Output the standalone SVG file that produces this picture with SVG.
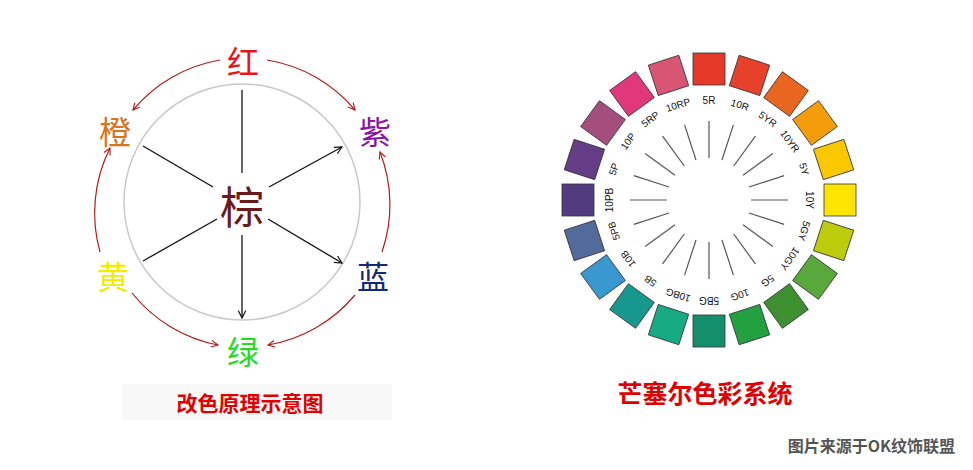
<svg xmlns="http://www.w3.org/2000/svg" width="973" height="470" viewBox="0 0 973 470">
<style>
.cj{font-family:"Noto Sans CJK SC","Liberation Sans",sans-serif;text-anchor:middle;dominant-baseline:central}
.sq{stroke:#333;stroke-width:0.8}
.tk{stroke:#555;stroke-width:1.2}
.lb{font-family:"Liberation Sans",sans-serif;font-size:10px;fill:#111;text-anchor:middle;dominant-baseline:central}
.bk{stroke:#111;stroke-width:1.3;fill:none}
.rd{stroke:#b31b1b;stroke-width:1.2;fill:none}
</style>
<defs>
<marker id="ab" viewBox="0 0 10 10" refX="9" refY="5" markerWidth="7" markerHeight="7" orient="auto"><path d="M1,1 L9,5 L1,9" fill="none" stroke="#111" stroke-width="1.3"/></marker>
<marker id="ar" viewBox="0 0 10 10" refX="9" refY="5" markerWidth="7" markerHeight="7" orient="auto"><path d="M1,1 L9,5 L1,9" fill="none" stroke="#b31b1b" stroke-width="1.3"/></marker>
</defs>
<rect width="973" height="470" fill="#fff"/>
<circle cx="242" cy="202" r="118" fill="none" stroke="#c8c8c8" stroke-width="1.5"/>
<g id="connectors">
<line class="bk" x1="242" y1="90" x2="242" y2="173"/>
<line class="bk" x1="242" y1="235" x2="242" y2="318" marker-end="url(#ab)"/>
<line class="bk" x1="143" y1="146" x2="213" y2="187"/>
<line class="bk" x1="269" y1="187" x2="342" y2="147" marker-end="url(#ab)"/>
<line class="bk" x1="143" y1="261" x2="217" y2="219"/>
<line class="bk" x1="268" y1="219" x2="342" y2="263" marker-end="url(#ab)"/>
<path class="rd" d="M267,60 A145,145 0 0 1 355,110" marker-end="url(#ar)"/>
<path class="rd" d="M220,60 A145,145 0 0 0 133,110" marker-end="url(#ar)"/>
<path class="rd" d="M100,252 A145,145 0 0 1 110,148" marker-end="url(#ar)"/>
<path class="rd" d="M382,252 A145,145 0 0 0 380,152" marker-end="url(#ar)"/>
<path class="rd" d="M132,293 A145,145 0 0 0 218,345" marker-end="url(#ar)"/>
<path class="rd" d="M355,295 A145,145 0 0 1 268,345" marker-end="url(#ar)"/>
</g>
<g id="n-hong"><text class="cj" x="243" y="60" font-size="32" fill="#e8141c">红</text></g>
<g id="n-cheng"><text class="cj" x="115" y="130" font-size="32" fill="#d9731c">橙</text></g>
<g id="n-zi"><text class="cj" x="375" y="130" font-size="32" fill="#8a14a8">紫</text></g>
<g id="n-huang"><text class="cj" x="113" y="275" font-size="32" fill="#f2ec00">黄</text></g>
<g id="n-lan"><text class="cj" x="373" y="275" font-size="32" fill="#142a78">蓝</text></g>
<g id="n-lv"><text class="cj" x="243" y="350" font-size="32" fill="#22dd22">绿</text></g>
<g id="n-zong"><text class="cj" x="242" y="205" font-size="44" fill="#6b1a1a">棕</text></g>
<rect x="122" y="384" width="270" height="36" fill="#f8f8f8"/>
<text class="cj" x="250" y="402" font-size="21" font-weight="bold" fill="#e00000">改色原理示意图</text>
<g id="wheel" transform="translate(709,200)">
<g transform="rotate(0)"><rect class="sq" x="-16" y="-147" width="32" height="32" fill="#e53a2a"/><line class="tk" x1="0" y1="-42" x2="0" y2="-79"/><text class="lb" x="0" y="-100">5R</text></g>
<g transform="rotate(18)"><rect class="sq" x="-16" y="-147" width="32" height="32" fill="#e8412b"/><line class="tk" x1="0" y1="-42" x2="0" y2="-79"/><text class="lb" x="0" y="-100">10R</text></g>
<g transform="rotate(36)"><rect class="sq" x="-16" y="-147" width="32" height="32" fill="#e8661f"/><line class="tk" x1="0" y1="-42" x2="0" y2="-79"/><text class="lb" x="0" y="-100">5YR</text></g>
<g transform="rotate(54)"><rect class="sq" x="-16" y="-147" width="32" height="32" fill="#f59c0a"/><line class="tk" x1="0" y1="-42" x2="0" y2="-79"/><text class="lb" x="0" y="-100">10YR</text></g>
<g transform="rotate(72)"><rect class="sq" x="-16" y="-147" width="32" height="32" fill="#fbc800"/><line class="tk" x1="0" y1="-42" x2="0" y2="-79"/><text class="lb" x="0" y="-100">5Y</text></g>
<g transform="rotate(90)"><rect class="sq" x="-16" y="-147" width="32" height="32" fill="#fde500"/><line class="tk" x1="0" y1="-42" x2="0" y2="-79"/><text class="lb" x="0" y="-100">10Y</text></g>
<g transform="rotate(108)"><rect class="sq" x="-16" y="-147" width="32" height="32" fill="#bccb0c"/><line class="tk" x1="0" y1="-42" x2="0" y2="-79"/><text class="lb" x="0" y="-100">5GY</text></g>
<g transform="rotate(126)"><rect class="sq" x="-16" y="-147" width="32" height="32" fill="#58a83c"/><line class="tk" x1="0" y1="-42" x2="0" y2="-79"/><text class="lb" x="0" y="-100">10GY</text></g>
<g transform="rotate(144)"><rect class="sq" x="-16" y="-147" width="32" height="32" fill="#3d8f30"/><line class="tk" x1="0" y1="-42" x2="0" y2="-79"/><text class="lb" x="0" y="-100">5G</text></g>
<g transform="rotate(162)"><rect class="sq" x="-16" y="-147" width="32" height="32" fill="#23a140"/><line class="tk" x1="0" y1="-42" x2="0" y2="-79"/><text class="lb" x="0" y="-100">10G</text></g>
<g transform="rotate(180)"><rect class="sq" x="-16" y="-147" width="32" height="32" fill="#138f6c"/><line class="tk" x1="0" y1="-42" x2="0" y2="-79"/><text class="lb" x="0" y="-100">5BG</text></g>
<g transform="rotate(198)"><rect class="sq" x="-16" y="-147" width="32" height="32" fill="#17ab83"/><line class="tk" x1="0" y1="-42" x2="0" y2="-79"/><text class="lb" x="0" y="-100">10BG</text></g>
<g transform="rotate(216)"><rect class="sq" x="-16" y="-147" width="32" height="32" fill="#17988f"/><line class="tk" x1="0" y1="-42" x2="0" y2="-79"/><text class="lb" x="0" y="-100">5B</text></g>
<g transform="rotate(234)"><rect class="sq" x="-16" y="-147" width="32" height="32" fill="#3a98d0"/><line class="tk" x1="0" y1="-42" x2="0" y2="-79"/><text class="lb" x="0" y="-100">10B</text></g>
<g transform="rotate(252)"><rect class="sq" x="-16" y="-147" width="32" height="32" fill="#536b9b"/><line class="tk" x1="0" y1="-42" x2="0" y2="-79"/><text class="lb" x="0" y="-100">5PB</text></g>
<g transform="rotate(270)"><rect class="sq" x="-16" y="-147" width="32" height="32" fill="#533b80"/><line class="tk" x1="0" y1="-42" x2="0" y2="-79"/><text class="lb" x="0" y="-100">10PB</text></g>
<g transform="rotate(288)"><rect class="sq" x="-16" y="-147" width="32" height="32" fill="#653c86"/><line class="tk" x1="0" y1="-42" x2="0" y2="-79"/><text class="lb" x="0" y="-100">5P</text></g>
<g transform="rotate(306)"><rect class="sq" x="-16" y="-147" width="32" height="32" fill="#a54d7d"/><line class="tk" x1="0" y1="-42" x2="0" y2="-79"/><text class="lb" x="0" y="-100">10P</text></g>
<g transform="rotate(324)"><rect class="sq" x="-16" y="-147" width="32" height="32" fill="#e0387a"/><line class="tk" x1="0" y1="-42" x2="0" y2="-79"/><text class="lb" x="0" y="-100">5RP</text></g>
<g transform="rotate(342)"><rect class="sq" x="-16" y="-147" width="32" height="32" fill="#d95574"/><line class="tk" x1="0" y1="-42" x2="0" y2="-79"/><text class="lb" x="0" y="-100">10RP</text></g>
</g>
<text class="cj" x="705" y="392" font-size="25" font-weight="bold" fill="#e00000">芒塞尔色彩系统</text>
<text x="955" y="445" font-family="Noto Sans CJK SC,Liberation Sans,sans-serif" font-size="16" font-weight="bold" fill="#555" text-anchor="end" dominant-baseline="central">图片来源于OK纹饰联盟</text>
</svg>
